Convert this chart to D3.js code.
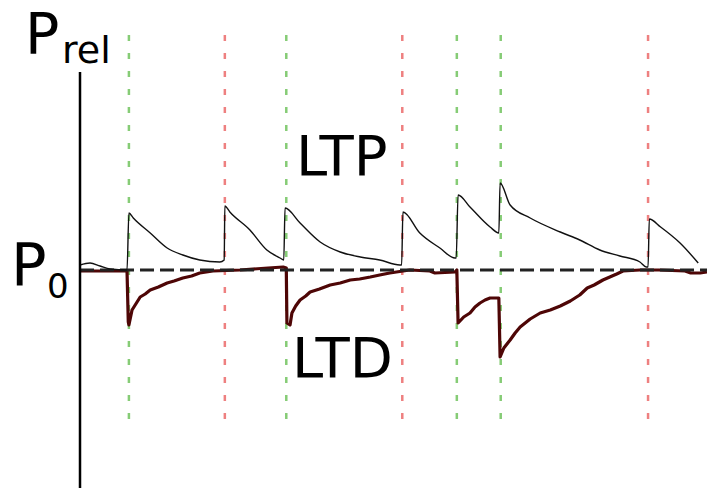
<!DOCTYPE html>
<html><head><meta charset="utf-8">
<script src="https://cdn.jsdelivr.net/npm/d3@7"></script>
<style>body{margin:0;background:#fff}svg{display:block}</style>
</head><body>
<svg id="c" width="707" height="488"></svg>
<script>
// spike times (arbitrary time units 0..100)
const preSpikes = [7.8, 32.9, 60.1, 67.1];   // green
const postSpikes = [23.1, 51.4, 90.6];       // red

// LTP trace (relative change above P0)
const ltpT = [0,1.6,3.2,4.8,7.5,7.8,8.5,11.2,13.9,16.4,19.1,22.3,23.0,23.1,23.9,27.1,29.8,31.9,32.5,32.7,35.1,38.3,41.5,44.7,47.8,51.0,51.3,51.5,54.2,57.4,59.8,60.0,60.3,62.2,65.4,66.8,67.0,68.6,71.8,76.6,79.7,82.9,86.1,89.3,90.3,90.6,90.8,92.6,95.7,98.6];
const ltpV = [0.05,0.07,0.04,0.01,0.0,0.57,0.52,0.37,0.22,0.15,0.10,0.08,0.10,0.64,0.58,0.40,0.20,0.12,0.10,0.62,0.47,0.28,0.18,0.13,0.10,0.05,0.05,0.58,0.37,0.22,0.12,0.12,0.75,0.63,0.43,0.37,0.87,0.65,0.52,0.38,0.30,0.20,0.14,0.08,0.03,0.03,0.51,0.43,0.27,0.07];

// LTD trace (relative change below P0)
const ltdT = [0,7.5,7.7,7.8,8.3,9.0,9.6,10.4,11.2,12.5,13.9,15.0,16.4,17.8,19.1,21.2,25.5,30.0,32.4,32.9,33.0,33.5,33.8,34.4,35.1,36.0,36.7,38.2,39.9,41.5,43.1,44.6,46.3,47.8,49.4,52.6,55.8,56.6,59.8,60.1,60.3,61.2,62.2,63.0,63.8,64.6,65.4,66.8,67.0,67.6,68.6,69.4,70.2,71.8,73.4,75.0,76.6,78.2,79.7,80.9,82.0,83.4,84.5,85.6,86.6,89.3,92.3,96.5,97.4,98.9,100];
const ltdV = [-0.01,-0.01,-0.52,-0.55,-0.40,-0.33,-0.27,-0.24,-0.20,-0.17,-0.13,-0.11,-0.08,-0.06,-0.03,-0.01,0,0.02,0.03,0.02,-0.53,-0.55,-0.43,-0.36,-0.30,-0.26,-0.22,-0.19,-0.15,-0.13,-0.10,-0.09,-0.07,-0.05,-0.03,0,-0.01,-0.03,-0.02,0,-0.53,-0.47,-0.43,-0.37,-0.33,-0.30,-0.28,-0.28,-0.87,-0.78,-0.70,-0.63,-0.57,-0.49,-0.43,-0.40,-0.36,-0.31,-0.25,-0.18,-0.15,-0.10,-0.07,-0.04,-0.01,0,0,-0.01,-0.03,-0.03,-0.02];

const svg = d3.select("#c");
const x = d3.scaleLinear().domain([0,100]).range([80,707]);
const y = d3.scaleLinear().domain([-2,2]).range([470,70]);
const font = "DejaVu Sans, Verdana, sans-serif";

// spike marker lines
const spikeTop = 2.35, spikeBot = -1.5;
svg.selectAll("line.pre").data(preSpikes).join("line")
  .attr("x1", d=>x(d)).attr("x2", d=>x(d))
  .attr("y1", y(spikeTop)).attr("y2", y(spikeBot))
  .attr("stroke", "#86cc76").attr("stroke-width", 2.5)
  .attr("stroke-dasharray", "6,12");
svg.selectAll("line.post").data(postSpikes).join("line")
  .attr("x1", d=>x(d)).attr("x2", d=>x(d))
  .attr("y1", y(spikeTop)).attr("y2", y(spikeBot))
  .attr("stroke", "#ee8080").attr("stroke-width", 2.5)
  .attr("stroke-dasharray", "6,12");

// LTD trace
const ltdLine = d3.line().x(d=>x(d[0])).y(d=>y(d[1])).curve(d3.curveLinear);
svg.append("path").datum(ltdT.map((t,i)=>[t, ltdV[i]]))
  .attr("d", ltdLine).attr("fill","none")
  .attr("stroke","#4e0606").attr("stroke-width",3.2).attr("stroke-linejoin","round");

// P0 baseline
svg.append("line").attr("x1", x(0)).attr("x2", x(100)).attr("y1", y(0)).attr("y2", y(0))
  .attr("stroke","#222").attr("stroke-width",3).attr("stroke-dasharray","14,6");

// LTP trace
const ltpLine = d3.line().x(d=>x(d[0])).y(d=>y(d[1])).curve(d3.curveMonotoneX);
svg.append("path").datum(ltpT.map((t,i)=>[t, ltpV[i]]))
  .attr("d", ltpLine).attr("fill","none")
  .attr("stroke","#111").attr("stroke-width",1.4);

// vertical axis
svg.append("line").attr("x1", x(0)).attr("x2", x(0)).attr("y1", 72).attr("y2", 488)
  .attr("stroke","#000").attr("stroke-width",2.5);

// labels
svg.append("text").attr("x",25).attr("y",54).attr("font-family",font).attr("font-size",57).text("P");
svg.append("text").attr("x",62).attr("y",63).attr("font-family",font).attr("font-size",38).text("rel");
svg.append("text").attr("x",11).attr("y",285).attr("font-family",font).attr("font-size",59).text("P");
svg.append("text").attr("x",47).attr("y",298).attr("font-family",font).attr("font-size",34).text("0");
svg.append("text").attr("x",296).attr("y",175).attr("font-family",font).attr("font-size",56).text("LTP");
svg.append("text").attr("x",292).attr("y",377).attr("font-family",font).attr("font-size",56).text("LTD");
</script>
</body></html>
